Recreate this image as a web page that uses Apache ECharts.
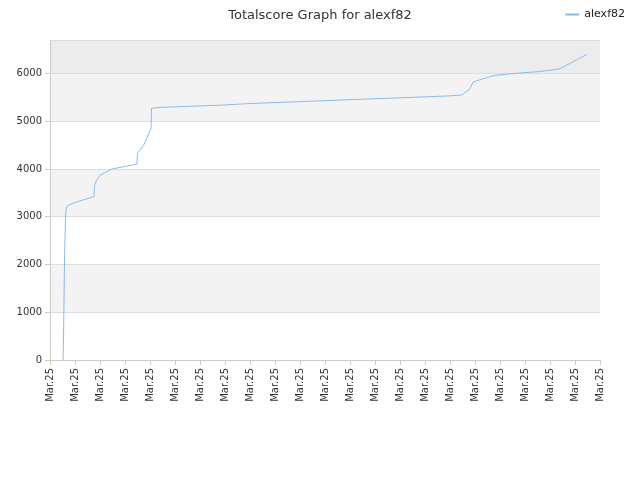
<!DOCTYPE html>
<html><head><meta charset="utf-8">
<script src="https://cdn.jsdelivr.net/npm/echarts@6/dist/echarts.min.js"></script>
<style>body{margin:0}#c{width:640px;height:480px}</style></head>
<body><div id="c"></div>
<script>
const xLabels = Array(23).fill('Mar.25');
const xs = [0.52,0.54,0.56,0.58,0.6,0.62,0.64,0.7,1.0,1.76,1.78,1.85,2.0,2.48,3.48,3.5,3.75,4.04,4.06,4.4,5,6,7,8,9,10,11,12,13,14,15,16,16.48,16.8,16.92,17.4,17.8,18.6,19.6,20.2,20.4,21.48];
const ys = [0,420,1250,2050,2550,2950,3150,3230,3300,3420,3650,3750,3870,4000,4100,4330,4500,4850,5270,5290,5300,5320,5340,5370,5390,5410,5430,5450,5470,5490,5510,5530,5550,5680,5820,5900,5960,6000,6040,6080,6100,6400];
const chart = echarts.init(document.getElementById('c'));
chart.setOption({
  animation:false,
  title:{text:'Totalscore Graph for alexf82',left:'center',top:4,textStyle:{fontSize:13,fontWeight:'normal',color:'#333',fontFamily:'DejaVu Sans'}},
  legend:{right:10,top:4,itemWidth:14,itemHeight:2,textStyle:{fontSize:11,color:'#222',fontFamily:'DejaVu Sans'},icon:'rect',data:['alexf82']},
  grid:{left:50,right:40,top:40,bottom:120},
  xAxis:{type:'value',min:0,max:22,interval:1,
    axisLabel:{rotate:90,formatter:(v)=>xLabels[v],fontSize:10,color:'#333',fontFamily:'DejaVu Sans'},
    axisLine:{lineStyle:{color:'#ccc'}},axisTick:{lineStyle:{color:'#ccc'}},splitLine:{show:false}},
  yAxis:{type:'value',min:0,max:6700,interval:1000,
    axisLabel:{fontSize:10,color:'#333',fontFamily:'DejaVu Sans',showMaxLabel:false,formatter:(v)=>String(v)},
    axisLine:{show:true,lineStyle:{color:'#ccc'}},axisTick:{show:true,lineStyle:{color:'#ccc'}},
    splitLine:{lineStyle:{color:'#ddd'}},
    splitArea:{show:true,areaStyle:{color:['#fff','#f3f3f3','#fff','#f3f3f3','#fff','#f3f3f3','#ececec']}}},
  series:[{name:'alexf82',type:'line',showSymbol:false,data:xs.map((x,i)=>[x,ys[i]]),
    lineStyle:{color:'#88bbee',width:1},itemStyle:{color:'#88bbee'}}]
});
</script></body></html>
